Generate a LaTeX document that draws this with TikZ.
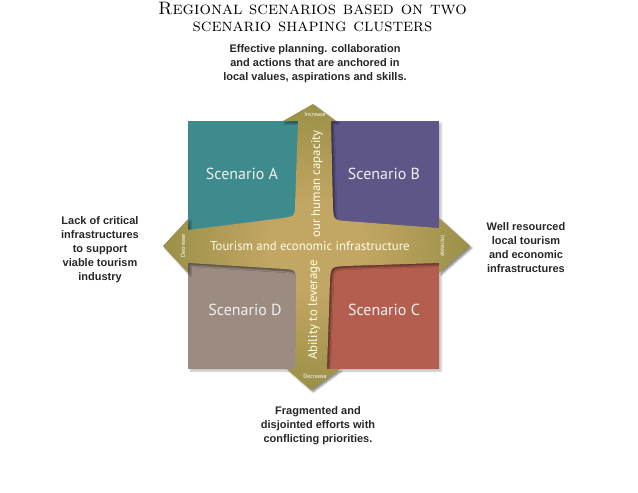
\documentclass[tikz,border=0pt]{standalone}
\usepackage{fontspec}
\newfontfamily\ptsans{PT Sans}
\newfontfamily\arialish{Liberation Sans}
\usetikzlibrary{shadows.blur}

\definecolor{scenA}{HTML}{3E8B8D}
\definecolor{scenB}{HTML}{5E5589}
\definecolor{scenC}{HTML}{B35E4F}
\definecolor{scenD}{HTML}{9C8B80}
\definecolor{crossolive}{HTML}{7C7F33}
\definecolor{crosstan}{HTML}{C2A663}
\pgfdeclareradialshading{crossglow}{\pgfpoint{0bp}{0bp}}{color(0bp)=(crosstan); color(8bp)=(crosstan); color(38bp)=(crossolive); color(50bp)=(crossolive)}

\begin{document}
\begin{tikzpicture}[x=1pt,y=-1pt,
	scen/.style={font=\ptsans\fontsize{16}{18}\selectfont,text=white!88!gray},
	axislabel/.style={font=\ptsans\fontsize{12.8}{14}\selectfont,text=white!90!yellow},
	tag/.style={font=\ptsans\fontsize{6}{7}\selectfont,text=white},
	side/.style={font=\arialish\bfseries\fontsize{11}{14}\selectfont,align=center,text=black!85},
	headline/.style={font=\scshape\fontsize{18}{17}\selectfont,text=black,align=center,inner sep=0pt}]
	\useasboundingbox (0,0) rectangle (638,493);

	\node[headline,anchor=north] (title) at (312.5,2) {Regional scenarios based on two\\scenario shaping clusters};

	\fill[scenA,blur shadow={shadow opacity=25}] (188,121) rectangle (314,246);
	\fill[scenB,blur shadow={shadow opacity=25}] (314,121) rectangle (439,246);
	\fill[scenD,blur shadow={shadow opacity=25}] (188,246) rectangle (314,369);
	\fill[scenC,blur shadow={shadow opacity=25}] (314,246) rectangle (439,369);

	% the cross with its four arrow heads
	\path[shading=crossglow,blur shadow={shadow opacity=45,shadow xshift=2pt,shadow yshift=-2pt}]
		(298,121) -- (283,121) -- (313,104) -- (336,121) -- (331,121)
		-- (333,208) .. controls (334,220) .. (346,221) -- (439,228)
		-- (439,218) -- (470,246) -- (439,273) -- (439,263)
		-- (345,266) .. controls (331,267) .. (330,280) -- (327,369)
		-- (340,369) -- (311,390) -- (287,369) -- (295,369)
		-- (296,282) .. controls (296,270) .. (284,269) -- (188,263)
		-- (188,273) -- (163,246) -- (188,219) -- (188,230)
		-- (283,218) .. controls (295,216) .. (295,205) -- cycle;

	\node[scen] (nameA) at (242,174) {Scenario A};
	\node[scen] (nameB) at (384,174) {Scenario B};
	\node[scen] (nameD) at (245,310) {Scenario D};
	\node[scen] (nameC) at (384,310) {Scenario C};

	\node[axislabel] (infra) at (310,246) {Tourism and economic infrastructure};
	\node[axislabel,rotate=90] (capacity) at (317,184) {our human capacity};
	\node[axislabel,rotate=90] (leverage) at (314,310) {Ability to leverage};

	\node[tag] (upinc) at (315,114) {Increase};
	\node[tag] (downdec) at (315,376) {Decrease};
	\node[tag,rotate=90] (leftdec) at (183,246) {Decrease};
	\node[tag,rotate=-90] (rightinc) at (443,246) {Increase};

	\node[side] (effort) at (315,64) {Effective planning. collaboration\\and actions that are anchored in\\local values, aspirations and skills.};
	\node[side] (lack) at (100,250) {Lack of critical\\infrastructures\\to support\\viable tourism\\industry};
	\node[side] (wellres) at (526,248) {Well resourced\\local tourism\\and economic\\infrastructures};
	\node[side] (frag) at (318,426) {Fragmented and\\disjointed efforts with\\conflicting priorities.};
\end{tikzpicture}
\end{document}
